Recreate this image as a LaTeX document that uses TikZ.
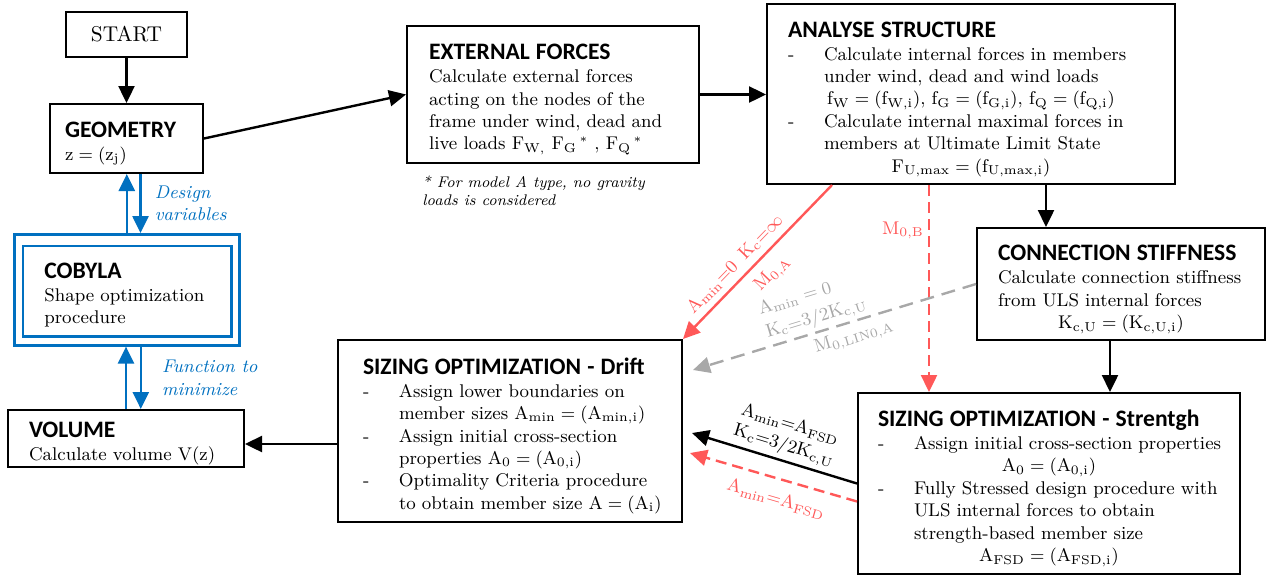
\documentclass[tikz,border=0pt]{standalone}
\usepackage{fontspec}
\usetikzlibrary{arrows.meta,calc}
\newfontfamily\hdfont{Carlito}
\definecolor{cblue}{RGB}{0,112,192}
\definecolor{cred}{RGB}{255,88,88}
\definecolor{cgray}{RGB}{168,168,168}
\newcommand\bodyfont{\fontsize{9.2}{11.2}\selectfont}
% box heading (with a tall strut for top air), dash item, centred formula line, left padding
\newcommand\hd[1]{{\hdfont\bfseries\fontsize{11.8}{13}\selectfont\rule{0pt}{13pt}#1\par}\vspace{0.3pt}}
\newcommand\pad[1]{\leftskip=#1\relax}
\newcommand\ditem[1]{\par\hangindent=18pt\hangafter=1\noindent\makebox[18pt][l]{-}#1\par}
\newcommand\mline[1]{\par{\centering #1\par}}

\begin{document}
\begin{tikzpicture}[x=0.5pt,y=-0.5pt,
  box/.style={draw, line width=1pt, anchor=north west, align=left,
    inner xsep=3pt, inner ysep=0pt, font=\bodyfont},
  tip/.style={-{Triangle[length=8.5pt,width=8pt]}},
  arr/.style={tip, line width=1.2pt},
  barr/.style={tip, line width=1.3pt, color=cblue},
  rarr/.style={tip, line width=1.2pt, color=cred},
  rdash/.style={rarr, dash pattern=on 5.5pt off 3pt},
  garr/.style={tip, line width=1.2pt, color=cgray, dash pattern=on 7pt off 4pt},
  lab/.style={font=\bodyfont, sloped, inner sep=0pt},
  blab/.style={font=\bodyfont\itshape, text=cblue, align=left, inner sep=0pt},
]
\useasboundingbox (0,0) rectangle (1273,579);

% ---- boxes ----
\node[draw, line width=1pt, anchor=north west, minimum width=60.5pt,
  minimum height=22.5pt, inner sep=0pt, font=\fontsize{10.7}{12}\selectfont]
  (start) at (65,11) {START};

\node[box, text width=70.5pt, minimum height=34.5pt] (geo) at (49,103)
  {\pad{4.5pt}\hd{GEOMETRY}$\mathrm{z=(z_j)}$\par};

\node[box, draw=cblue, line width=1.3pt, text width=106.5pt, minimum height=55.5pt]
  (cob) at (13,233)
  {\pad{12pt}\hd{COBYLA}Shape optimization\newline procedure\par};
\draw[cblue, line width=1.3pt] ([shift={(5pt,-6.5pt)}]cob.north west)
  rectangle ([shift={(-4.5pt,5pt)}]cob.south east);

\node[box, text width=112pt, minimum height=28.5pt] (vol) at (7,409)
  {\pad{7.5pt}\hd{VOLUME}Calculate volume V(z)\par};

\node[box, text width=140pt, minimum height=68.5pt] (ext) at (406,25)
  {\pad{8pt}\hd{EXTERNAL FORCES}Calculate external forces\newline
   acting on the nodes of the\newline frame under wind, dead and\newline
   live loads $\mathrm{F_{W,}}$ $\mathrm{F_G}^{\,*}$ , $\mathrm{F_Q}^{\,*}$\par};

\node[anchor=north west, inner sep=0pt, align=left,
  font=\fontsize{7.7}{9}\selectfont\itshape] (note) at (422,176)
  {* For model A type, no gravity\\loads is considered};

\node[box, text width=198pt, minimum height=90pt] (ana) at (766,3)
  {\pad{7.5pt}\hd{ANALYSE STRUCTURE}
   \ditem{Calculate internal forces in members\newline under wind, dead and wind loads}
   \mline{$\mathrm{f_W=(f_{W,i})}$, $\mathrm{f_G=(f_{G,i})}$, $\mathrm{f_Q=(f_{Q,i})}$}
   \ditem{Calculate internal maximal forces in\newline members at Ultimate Limit State}
   \mline{$\mathrm{F_{U,max}=(f_{U,max,i})}$}};

\node[box, text width=138pt, minimum height=56pt] (con) at (976,227)
  {\pad{7.5pt}\hd{CONNECTION STIFFNESS}Calculate connection stiffness\newline
   from ULS internal forces
   \mline{$\mathrm{K_{c,U}=(K_{c,U,i})}$}};

\node[box, text width=166pt, minimum height=91pt] (drift) at (337,339)
  {\pad{9.5pt}\hd{SIZING OPTIMIZATION - Drift}
   \ditem{Assign lower boundaries on\newline member sizes $\mathrm{A_{min}=(A_{min,i})}$}
   \ditem{Assign initial cross-section\newline properties $\mathrm{A_0=(A_{0,i})}$}
   \ditem{Optimality Criteria procedure\newline to obtain member size $\mathrm{A=(A_i)}$}};

\node[box, text width=185pt, minimum height=90.5pt] (str) at (857,392)
  {\pad{7pt}\hd{SIZING OPTIMIZATION - Strentgh}
   \ditem{Assign initial cross-section properties}
   \mline{$\mathrm{A_0=(A_{0,i})}$}
   \ditem{Fully Stressed design procedure with\newline ULS internal forces to obtain\newline
     strength-based member size}
   \mline{$\mathrm{A_{FSD}=(A_{FSD,i})}$}};

% ---- main flow ----
\draw[arr] (start) -- (geo);
\draw[arr] (geo.east) -- (ext.west);
\draw[arr] (ext.east) -- (ext.east -| ana.west);
\draw[arr] ([xshift=37.5pt]ana.south) -- ([xshift=37.5pt]ana.south |- con.north);
\draw[arr] ([xshift=-5.5pt]con.south) -- ([xshift=-5.5pt]con.south |- str.north);
\draw[arr] ([yshift=-6.5pt]drift.west) -- ([yshift=-6.5pt]drift.west -| vol.east);

% ---- optimizer loop ----
\draw[barr] (cob.north) -- (cob.north |- geo.south);
\draw[barr] ([xshift=7pt]geo.south) -- ([xshift=7pt]geo.south |- cob.north)
  node[blab, midway, right=6.5pt] {Design\\variables};
\draw[barr] (vol.north) -- (vol.north |- cob.south);
\draw[barr] ([xshift=7pt]cob.south) -- ([xshift=7pt]cob.south |- vol.north)
  node[blab, midway, right=10pt] {Function to\\minimize};

% ---- model variants ----
\draw[rarr] ([xshift=33pt]ana.south west) --
  node[lab, above=3pt, pos=0.58] {$\mathrm{A_{min}{=}0}$\enspace$\mathrm{K_c{=}\infty}$}
  node[lab, below=4.5pt, pos=0.49] {$\mathrm{M_{0,A}}$}
  (drift.north east);
\draw[rdash] ([xshift=-21pt]ana.south) --
  node[font=\bodyfont, left, pos=0.22, inner sep=2pt] {$\mathrm{M_{0,B}}$}
  ([xshift=-21pt]ana.south |- str.north);
\draw[garr] (con.west) --
  node[lab, above=15pt, pos=0.6] {$\mathrm{A_{min}} = 0$}
  node[lab, above=1.5pt, pos=0.55] {$\mathrm{K_c{=}3/2K_{c,U}}$}
  node[lab, below=2.5pt, pos=0.446] {$\mathrm{M_{0,LIN0,A}}$}
  ([xshift=5pt,yshift=-15.5pt]drift.north east);
\draw[arr] (str.west) --
  node[lab, above=14pt, pos=0.47] {$\mathrm{A_{min}{=}A_{FSD}}$}
  node[lab, above=2pt, pos=0.47] {$\mathrm{K_c{=}3/2K_{c,U}}$}
  ([xshift=4.5pt,yshift=-1pt]drift.east);
\draw[rdash] ([yshift=-9pt]str.west) --
  node[lab, below=5.5pt, pos=0.45] {$\mathrm{A_{min}{=}A_{FSD}}$}
  ([xshift=3.5pt,yshift=-11pt]drift.east);
\end{tikzpicture}
\end{document}
